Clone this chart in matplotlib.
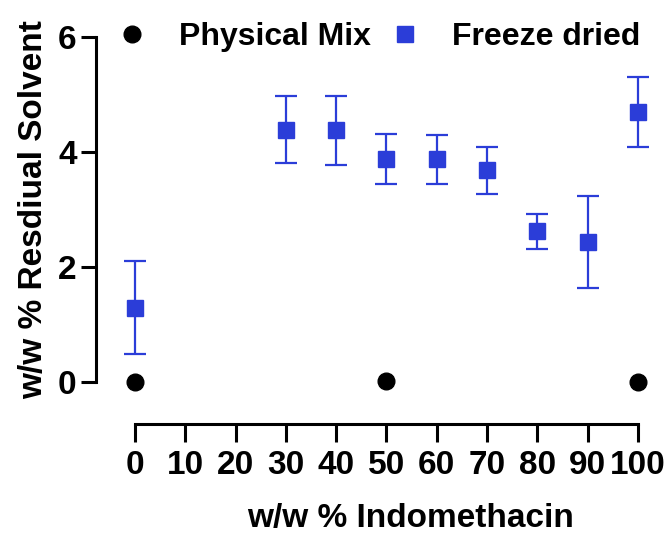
import matplotlib
matplotlib.use('Agg')
from matplotlib import pyplot as plt

plt.rcParams['font.family'] = ['Liberation Sans', 'DejaVu Sans']
plt.rcParams['font.weight'] = 'bold'

# physical mix
pm_x = [0, 50, 100]
pm_y = [0.0, 0.02, 0.0]

# freeze dried, mean +/- sd
fd_x = [0, 30, 40, 50, 60, 70, 80, 90, 100]
fd_y = [1.29, 4.39, 4.38, 3.88, 3.87, 3.68, 2.62, 2.43, 4.69]
fd_err = [0.81, 0.59, 0.60, 0.43, 0.43, 0.41, 0.30, 0.80, 0.61]

x_ticks = [0, 10, 20, 30, 40, 50, 60, 70, 80, 90, 100]
y_ticks = [0, 2, 4, 6]

blue = '#2b3dd8'

fig = plt.figure(figsize=(6.67, 5.36), dpi=100)
ax = fig.add_axes([0.2024, 0.2873, 0.7541, 0.6437])

ax.plot(pm_x, pm_y, 'o', color='black', markersize=12, clip_on=False,
        label='Physical Mix', zorder=3)
ax.errorbar(fd_x, fd_y, yerr=fd_err, fmt='s', color=blue, ecolor=blue,
            markersize=12, elinewidth=1.6, capsize=8, capthick=1.6,
            clip_on=False, label='Freeze dried', zorder=3)

ax.set_xlim(0, 100)
ax.set_ylim(0, 6)
ax.set_xticks(x_ticks)
ax.set_yticks(y_ticks)

for side in ['top', 'right']:
    ax.spines[side].set_visible(False)
ax.spines['left'].set_position(('outward', 28))
ax.spines['bottom'].set_position(('outward', 30))
ax.spines['left'].set_linewidth(2.2)
ax.spines['bottom'].set_linewidth(2.2)
ax.tick_params(axis='x', length=13, width=2.2, pad=6, labelsize=24)
ax.tick_params(axis='y', length=11, width=2.2, pad=3, labelsize=24)

ax.set_xlabel('w/w % Indomethacin', fontsize=24, fontweight='bold')
ax.set_ylabel('w/w % Resdiual Solvent', fontsize=24, fontweight='bold')
ax.xaxis.set_label_coords(0.547, -0.35)
ax.yaxis.set_label_coords(-0.17, 0.5)

handles, labels = ax.get_legend_handles_labels()
handles = [handles[0], handles[1][0]]
fig.legend(handles, labels, loc='center left', ncol=2, frameon=False,
           bbox_to_anchor=(116 / 667, 1 - 37 / 536), borderaxespad=0,
           borderpad=0, handlelength=1, handletextpad=0.98,
           columnspacing=0.56, fontsize=23)

fig.savefig('out.png', dpi=100)
